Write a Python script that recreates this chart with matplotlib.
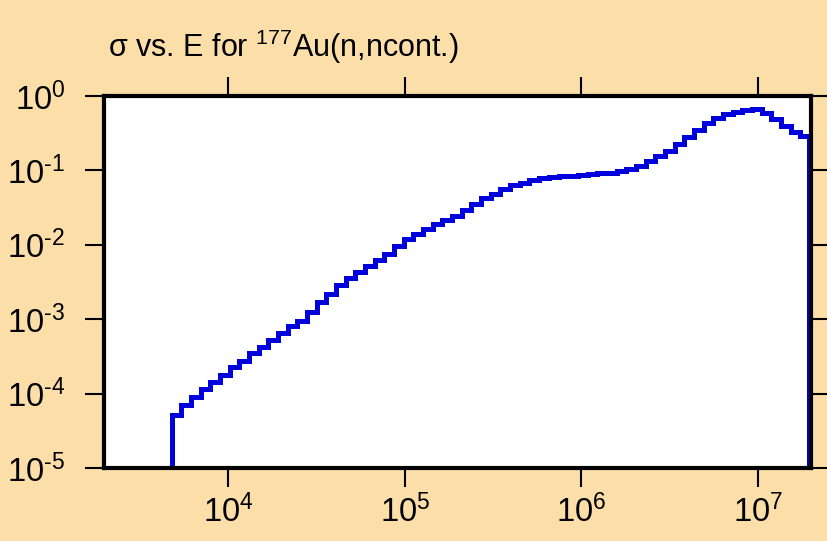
import math
import matplotlib
matplotlib.use("Agg")
import matplotlib.pyplot as plt
from matplotlib.ticker import NullLocator, FuncFormatter

plt.rcParams['font.family'] = ['Liberation Sans', 'DejaVu Sans']
plt.rcParams['mathtext.fontset'] = 'custom'
plt.rcParams['mathtext.rm'] = 'Liberation Sans'
plt.rcParams['mathtext.it'] = 'Liberation Sans'
plt.rcParams['mathtext.bf'] = 'Liberation Sans'
plt.rcParams['mathtext.default'] = 'regular'

# Energy bin edges (eV)
energy_edges = [
    4800, 5445, 6176, 7005, 7946, 9013, 10224, 11597, 13154, 14921,
    16925, 19198, 21776, 24701, 28018, 31781, 36049, 40891, 46383, 52612,
    59678, 67693, 76784, 87096, 98793, 112060, 127110, 144180, 163540, 185500,
    210420, 238680, 270740, 307100, 348340, 395120, 448190, 508380, 576660, 654110,
    741960, 841600, 954630, 1082830, 1228250, 1393200, 1580310, 1792540, 2033270, 2306340,
    2616070, 2967410, 3365920, 3817940, 4330690, 4912300, 5572000, 6320300, 7169100, 8131900,
    9224000, 10463000, 11868000, 13462000, 15270000, 17321000, 19450000,
]

# Cross section (b) per bin
cross_section = [
    5.16e-5, 7.03e-5, 9.14e-5, 1.164e-4, 1.45e-4, 1.79e-4, 2.25e-4, 2.78e-4, 3.50e-4, 4.28e-4,
    5.19e-4, 6.48e-4, 8.15e-4, 9.52e-4, 1.234e-3, 1.724e-3, 2.21e-3, 2.86e-3, 3.54e-3, 4.35e-3,
    5.21e-3, 6.25e-3, 7.47e-3, 9.54e-3, 1.204e-2, 1.405e-2, 1.636e-2, 1.88e-2, 2.135e-2, 2.476e-2,
    2.96e-2, 3.55e-2, 4.20e-2, 4.88e-2, 5.61e-2, 6.28e-2, 6.79e-2, 7.38e-2, 7.88e-2, 8.13e-2,
    8.33e-2, 8.51e-2, 8.68e-2, 8.92e-2, 9.14e-2, 9.28e-2, 9.81e-2, 0.1041, 0.1156, 0.1326,
    0.1543, 0.1834, 0.2243, 0.2812, 0.349, 0.427, 0.506, 0.5675, 0.617, 0.6545,
    0.6605, 0.5945, 0.492, 0.399, 0.3333, 0.290,
]

x_ticks = [1e4, 1e5, 1e6, 1e7]
y_ticks = [1e-5, 1e-4, 1e-3, 1e-2, 1e-1, 1e0]
title_text = r"σ vs. E for $^{177}$Au(n,ncont.)"

bg = '#FCDEA9'
fig = plt.figure(figsize=(8.27, 5.41), dpi=100, facecolor=bg)
ax = fig.add_axes([104 / 827, 1 - 468 / 541, (811 - 104) / 827, (468 - 96) / 541])
ax.set_facecolor('white')

ax.stairs(cross_section, energy_edges, baseline=1e-8, color='#0000DD', lw=3.6, fill=False)

ax.set_xscale('log')
ax.set_yscale('log')
ax.set_xlim(1.99e3, 1.99e7)
ax.set_ylim(1e-5, 1e0)

ax.set_xticks(x_ticks)
ax.set_yticks(y_ticks)
ax.xaxis.set_minor_locator(NullLocator())
ax.yaxis.set_minor_locator(NullLocator())


def fmt(v, pos):
    e = int(round(math.log10(v)))
    if e < 0:
        return r"$10^{\text{-}%d}$" % (-e)
    return r"$10^{%d}$" % e


ax.xaxis.set_major_formatter(FuncFormatter(fmt))
ax.yaxis.set_major_formatter(FuncFormatter(fmt))

ax.tick_params(axis='both', which='major', direction='out', length=14, width=1.5,
               colors='black', labelsize=23.5, top=True, right=True,
               labeltop=False, labelright=False)
ax.tick_params(axis='x', pad=5)
ax.tick_params(axis='y', pad=14)

for s in ax.spines.values():
    s.set_linewidth(3)
    s.set_color('black')

fig.text(108 / 827, 1 - 57 / 541, title_text, fontsize=22, ha='left', va='baseline')

fig.savefig('out.png', dpi=100, facecolor=bg)
